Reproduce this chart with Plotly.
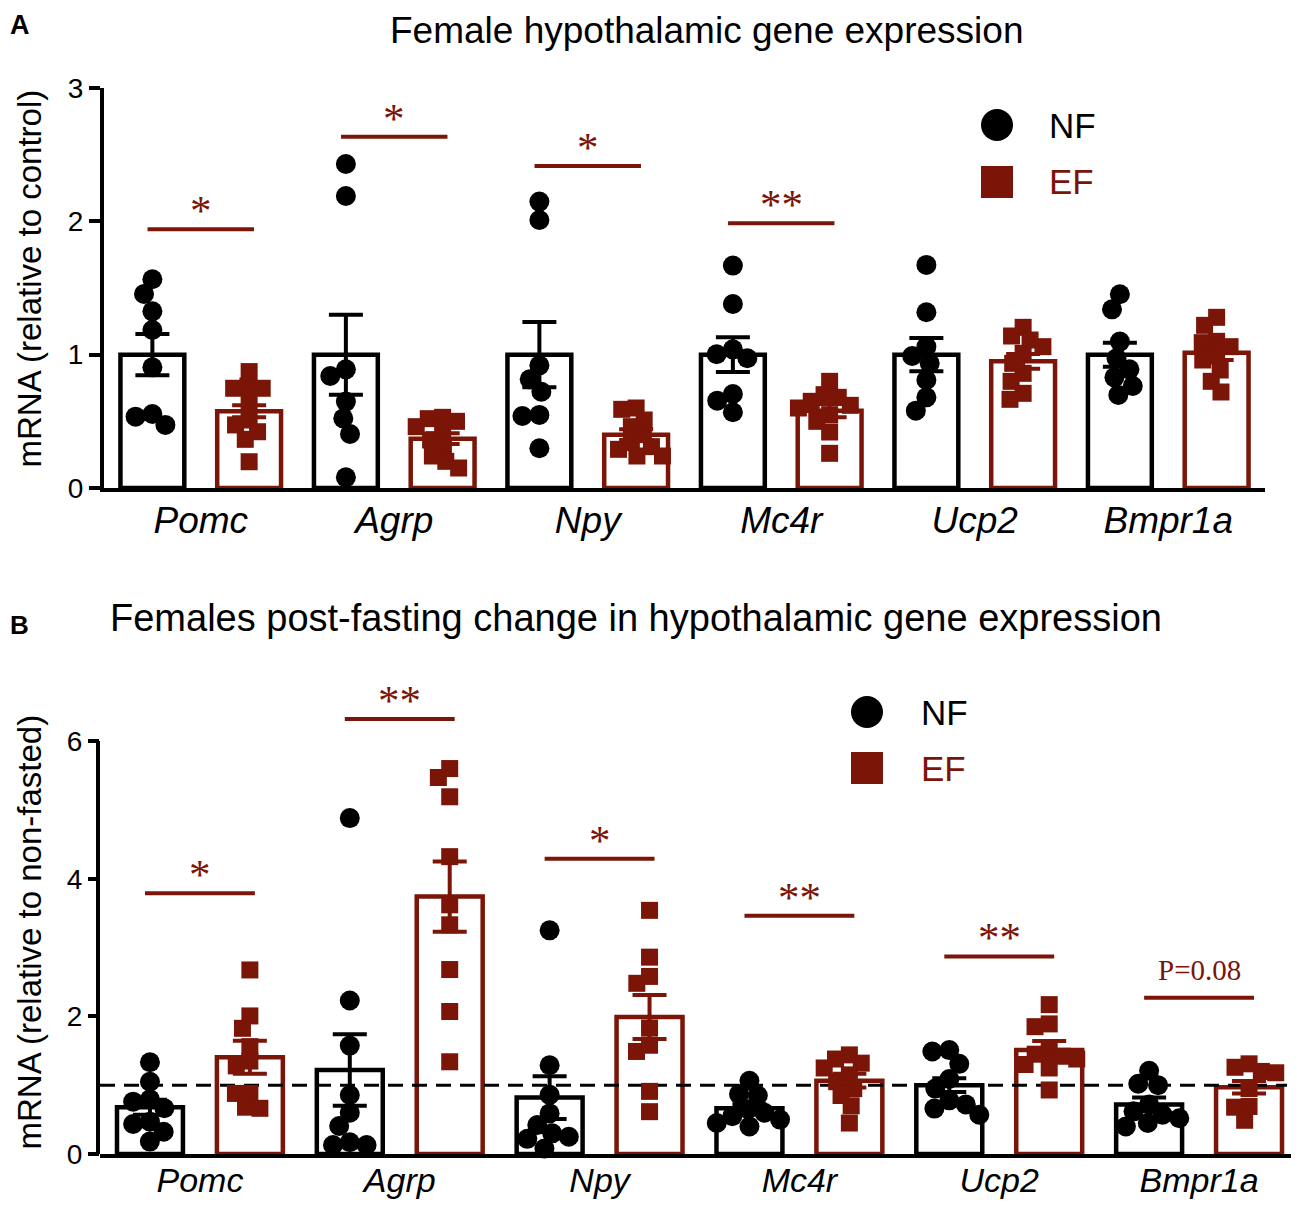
import math
import plotly.graph_objects as go

# ---- data ----
GENES = ["Pomc", "Agrp", "Npy", "Mc4r", "Ucp2", "Bmpr1a"]

# panel A: relative to control
A_NF_POINTS = [
    [1.566, 1.455, 1.325, 1.185, 0.905, 0.555, 0.535, 0.473],
    [2.43, 2.19, 0.89, 0.84, 0.648, 0.522, 0.405, 0.08],
    [2.148, 2.01, 0.92, 0.815, 0.722, 0.548, 0.54, 0.298],
    [1.668, 1.38, 1.04, 1.003, 0.973, 0.705, 0.655, 0.568],
    [1.673, 1.318, 1.06, 0.99, 0.935, 0.81, 0.68, 0.58],
    [1.453, 1.34, 1.098, 0.973, 0.89, 0.83, 0.765, 0.698],
]
A_EF_POINTS = [
    [0.873, 0.765, 0.748, 0.748, 0.648, 0.51, 0.473, 0.422, 0.365, 0.197],
    [0.53, 0.52, 0.5, 0.46, 0.42, 0.36, 0.31, 0.24, 0.2, 0.15],
    [0.6, 0.59, 0.51, 0.46, 0.4, 0.34, 0.31, 0.29, 0.24, 0.24],
    [0.8, 0.7, 0.68, 0.65, 0.62, 0.6, 0.55, 0.5, 0.42, 0.26],
    [1.205, 1.14, 1.11, 1.06, 1.01, 0.935, 0.86, 0.8, 0.71, 0.665],
    [1.28, 1.22, 1.1, 1.09, 1.06, 0.99, 0.96, 0.885, 0.8, 0.72],
]
A_NF_MEAN = [1.0, 1.0, 1.0, 1.0, 1.0, 1.0]
A_NF_SEM = [0.155, 0.3, 0.245, 0.13, 0.125, 0.09]
A_EF_MEAN = [0.575, 0.37, 0.4, 0.58, 0.95, 1.015]
A_EF_SEM = [0.045, 0.04, 0.04, 0.05, 0.055, 0.055]
A_SIG_GENE = [0, 1, 2, 3]
A_SIG_Y = [1.94, 2.635, 2.415, 1.985]
A_SIG_LABEL = ["*", "*", "*", "**"]

# panel B: relative to non-fasted
B_NF_POINTS = [
    [1.333, 1.05, 0.795, 0.76, 0.664, 0.47, 0.436, 0.324, 0.18],
    [4.88, 2.23, 1.575, 0.858, 0.6, 0.407, 0.17, 0.13, 0.13],
    [3.25, 1.29, 0.86, 0.59, 0.42, 0.3, 0.25, 0.22, 0.08],
    [1.065, 0.87, 0.85, 0.65, 0.6, 0.55, 0.5, 0.45, 0.4],
    [1.51, 1.49, 1.31, 1.09, 0.95, 0.78, 0.72, 0.66, 0.57],
    [1.21, 1.02, 1.0, 0.72, 0.62, 0.57, 0.52, 0.45, 0.4],
]
B_EF_POINTS = [
    [2.674, 2.006, 1.826, 1.56, 1.35, 1.28, 0.88, 0.88, 0.68, 0.664],
    [5.6, 5.47, 5.19, 4.32, 3.62, 3.33, 2.68, 2.07, 1.34],
    [3.54, 2.86, 2.58, 2.48, 1.83, 1.58, 1.49, 0.91, 0.615],
    [1.44, 1.38, 1.32, 1.25, 1.15, 1.05, 0.95, 0.85, 0.7, 0.45],
    [2.17, 1.89, 1.85, 1.5, 1.45, 1.42, 1.38, 1.3, 1.25, 0.93],
    [1.31, 1.26, 1.2, 1.18, 0.95, 0.69, 0.68, 0.49],
]
B_NF_MEAN = [0.68, 1.22, 0.82, 0.664, 1.0, 0.72]
B_NF_SEM = [0.11, 0.52, 0.31, 0.06, 0.1, 0.1]
B_EF_MEAN = [1.405, 3.74, 1.99, 1.065, 1.51, 0.97]
B_EF_SEM = [0.24, 0.51, 0.32, 0.1, 0.13, 0.09]
B_SIG_GENE = [0, 1, 2, 3, 4, 5]
B_SIG_Y = [3.79, 6.32, 4.29, 3.46, 2.87, 2.27]
B_SIG_LABEL = ["*", "**", "*", "**", "**", "P=0.08"]

# ---- style / layout ----
PAGE_W, PAGE_H = 1299, 1210
OFF = 8  # default body margin of the html page
W, H = PAGE_W - 2 * OFF, PAGE_H - 2 * OFF
BLACK = "#000000"
RED = "#7a1508"
SANS = "Liberation Sans, Arial, Helvetica, sans-serif"
SERIF = "Liberation Serif, Times New Roman, serif"
BAR_W = 0.33
GROUP_OFF = 0.25
DOT = 20
SQ = 17


def fx(px):
    # page pixel -> paper fraction
    return min(max((px - OFF) / W, 0.0), 1.0)


def fy(py):
    return min(max(1 - (py - OFF) / H, 0.0), 1.0)


# page-pixel frames of the two plot areas (left, right, bottom, top)
PANELS = {
    "A": dict(xa="x", ya="y", l=104, r=1265, b=488, t=88, xr=[-0.5, 5.5], yr=[0, 3]),
    "B": dict(xa="x2", ya="y2", l=100, r=PAGE_W - OFF, b=1154, t=672.2, xr=[-0.5, 5.46], yr=[0, 7]),
}


def swarm(values, d, ppu_x, ppu_y):
    """simple beeswarm: x offsets (data units) so markers don't pile up"""
    placed = []
    offs = [0.0] * len(values)
    for k in sorted(range(len(values)), key=lambda i: -values[i]):
        y = values[k] * ppu_y
        cands = [0.0]
        for px, py in placed:
            dy = abs(py - y)
            if dy < d:
                dx = math.sqrt(d * d - dy * dy)
                cands += [px + dx, px - dx]
        cands.sort(key=lambda c: (abs(c), c))
        for c in cands:
            if all((c - px) ** 2 + (y - py) ** 2 >= d * d - 1e-6 for px, py in placed):
                placed.append((c, y))
                offs[k] = c / ppu_x
                break
    return offs


fig = go.Figure()
shapes = []
annotations = []


def add_panel(key, nf_pts, ef_pts, nf_mean, nf_sem, ef_mean, ef_sem, sig_gene, sig_y, sig_lab):
    p = PANELS[key]
    ppu_x = (p["r"] - p["l"]) / (p["xr"][1] - p["xr"][0])
    ppu_y = (p["b"] - p["t"]) / (p["yr"][1] - p["yr"][0])
    idx = list(range(len(GENES)))
    groups = [
        (nf_pts, nf_mean, nf_sem, -GROUP_OFF, BLACK, "circle", DOT),
        (ef_pts, ef_mean, ef_sem, GROUP_OFF, RED, "square", SQ),
    ]
    # bars
    for pts, mean, sem, off, col, sym, size in groups:
        fig.add_trace(go.Bar(
            x=[i + off for i in idx], y=mean, width=BAR_W,
            marker=dict(color="white", line=dict(color=col, width=4.5)),
            xaxis=p["xa"], yaxis=p["ya"], showlegend=False, hoverinfo="skip",
        ))
    if key == "B":
        # reference line at 1 (non-fasted level)
        fig.add_trace(go.Scatter(
            x=[-0.5, 5.44], y=[1, 1], mode="lines",
            line=dict(color=BLACK, width=3, dash="15px,9px"),
            xaxis=p["xa"], yaxis=p["ya"], showlegend=False, hoverinfo="skip",
        ))
    # individual animals
    for pts, mean, sem, off, col, sym, size in groups:
        xs, ys = [], []
        for i in idx:
            jit = swarm(pts[i], size * 0.85, ppu_x, ppu_y)
            xs += [i + off + j for j in jit]
            ys += pts[i]
        fig.add_trace(go.Scatter(
            x=xs, y=ys, mode="markers",
            marker=dict(symbol=sym, size=size, color=col, line=dict(width=0)),
            cliponaxis=False, xaxis=p["xa"], yaxis=p["ya"], showlegend=False,
        ))
    # SEM
    for pts, mean, sem, off, col, sym, size in groups:
        fig.add_trace(go.Scatter(
            x=[i + off for i in idx], y=mean, mode="markers",
            marker=dict(size=1, color="rgba(0,0,0,0)"),
            error_y=dict(type="data", array=sem, color=col, thickness=4, width=17),
            xaxis=p["xa"], yaxis=p["ya"], showlegend=False, hoverinfo="skip",
        ))
    # significance bars
    for g, yv, lab in zip(sig_gene, sig_y, sig_lab):
        shapes.append(dict(type="line", xref=p["xa"], yref=p["ya"],
                           x0=g - 0.275, x1=g + 0.275, y0=yv, y1=yv,
                           line=dict(color=RED, width=4)))
        is_p = lab.startswith("P")
        annotations.append(dict(
            x=g, y=yv, xref=p["xa"], yref=p["ya"], text=lab, showarrow=False,
            xanchor="center", yanchor="bottom", yshift=10 if is_p else -7,
            font=dict(family=SERIF, size=29 if is_p else 43, color=RED),
        ))


add_panel("A", A_NF_POINTS, A_EF_POINTS, A_NF_MEAN, A_NF_SEM, A_EF_MEAN, A_EF_SEM,
          A_SIG_GENE, A_SIG_Y, A_SIG_LABEL)
add_panel("B", B_NF_POINTS, B_EF_POINTS, B_NF_MEAN, B_NF_SEM, B_EF_MEAN, B_EF_SEM,
          B_SIG_GENE, B_SIG_Y, B_SIG_LABEL)

# y axis line of panel B stops at 6
pb = PANELS["B"]
shapes.append(dict(type="line", xref="paper", yref="y2", x0=fx(pb["l"] - 2), x1=fx(pb["l"] - 2),
                   y0=0, y1=6, line=dict(color=BLACK, width=4)))

# legends
for cx, cy_nf, cy_ef, tx in [(997, 125, 182, 1047), (867, 712, 768, 919)]:
    r = 16
    shapes.append(dict(type="circle", xref="paper", yref="paper",
                       x0=fx(cx - r), x1=fx(cx + r), y0=fy(cy_nf + r), y1=fy(cy_nf - r),
                       fillcolor=BLACK, line=dict(width=0)))
    shapes.append(dict(type="rect", xref="paper", yref="paper",
                       x0=fx(cx - r), x1=fx(cx + r), y0=fy(cy_ef + r), y1=fy(cy_ef - r),
                       fillcolor=RED, line=dict(width=0)))
    annotations.append(dict(x=fx(tx), y=fy(cy_nf), xref="paper", yref="paper", text="NF",
                            showarrow=False, xanchor="left", yanchor="middle",
                            font=dict(family=SANS, size=35, color=BLACK)))
    annotations.append(dict(x=fx(tx), y=fy(cy_ef), xref="paper", yref="paper", text="EF",
                            showarrow=False, xanchor="left", yanchor="middle",
                            font=dict(family=SANS, size=35, color=RED)))

# titles, panel letters, y titles
annotations += [
    dict(x=fx(706), y=1.0, yanchor="top", font=dict(family=SANS, size=37, color=BLACK),
         text="Female hypothalamic gene expression"),
    dict(x=fx(636), y=fy(618), yanchor="middle", font=dict(family=SANS, size=38, color=BLACK),
         text="Females post-fasting change in hypothalamic gene expression"),
]
for a in annotations[-2:]:
    a.update(xref="paper", yref="paper", showarrow=False, xanchor="center")
annotations += [
    dict(x=0.0, y=1.0, text="<b>A</b>", xref="paper", yref="paper", showarrow=False,
         xanchor="left", yanchor="top", font=dict(family=SANS, size=27, color=BLACK)),
    dict(x=0.0, y=fy(625), text="<b>B</b>", xref="paper", yref="paper", showarrow=False,
         xanchor="left", yanchor="middle", font=dict(family=SANS, size=26, color=BLACK)),
    dict(x=fx(OFF), y=fy(279), text="mRNA (relative to control)", textangle=-90,
         xref="paper", yref="paper", showarrow=False, xanchor="left", yanchor="middle",
         font=dict(family=SANS, size=33, color=BLACK)),
    dict(x=fx(OFF), y=fy(932), text="mRNA (relative to non-fasted)", textangle=-90,
         xref="paper", yref="paper", showarrow=False, xanchor="left", yanchor="middle",
         font=dict(family=SANS, size=33, color=BLACK)),
]

xcommon = dict(tickvals=list(range(len(GENES))), ticktext=[f"<i>{g}</i>" for g in GENES],
               ticks="", showgrid=False, zeroline=False, showline=True, linecolor=BLACK,
               linewidth=4, automargin=False, fixedrange=True)
ycommon = dict(ticks="outside", ticklen=11, tickwidth=4, tickcolor=BLACK, showgrid=False,
               zeroline=False, tickfont=dict(family=SANS, size=28, color=BLACK),
               automargin=False, fixedrange=True)

pa = PANELS["A"]
fig.update_layout(
    width=W, height=H, margin=dict(l=0, r=0, t=0, b=0, autoexpand=False),
    paper_bgcolor="white", plot_bgcolor="white", barmode="overlay", showlegend=False,
    xaxis=dict(domain=[fx(pa["l"]), fx(pa["r"])], range=pa["xr"], anchor="y",
               tickfont=dict(family=SANS, size=37, color=BLACK), ticklabelstandoff=-3, **xcommon),
    yaxis=dict(domain=[fy(pa["b"]), fy(pa["t"])], range=pa["yr"], anchor="x",
               tickvals=[0, 1, 2, 3], showline=True, linecolor=BLACK, linewidth=4, **ycommon),
    # bottom labels a touch smaller so they stay inside the page
    xaxis2=dict(domain=[fx(pb["l"]), fx(pb["r"])], range=pb["xr"], anchor="y2",
                tickfont=dict(family=SANS, size=34, color=BLACK), ticklabelstandoff=-7, **xcommon),
    yaxis2=dict(domain=[fy(pb["b"]), fy(pb["t"])], range=pb["yr"], anchor="x2",
                tickvals=[0, 2, 4, 6], showline=False, **ycommon),
    shapes=shapes, annotations=annotations,
)

fig.write_html("out.html")
